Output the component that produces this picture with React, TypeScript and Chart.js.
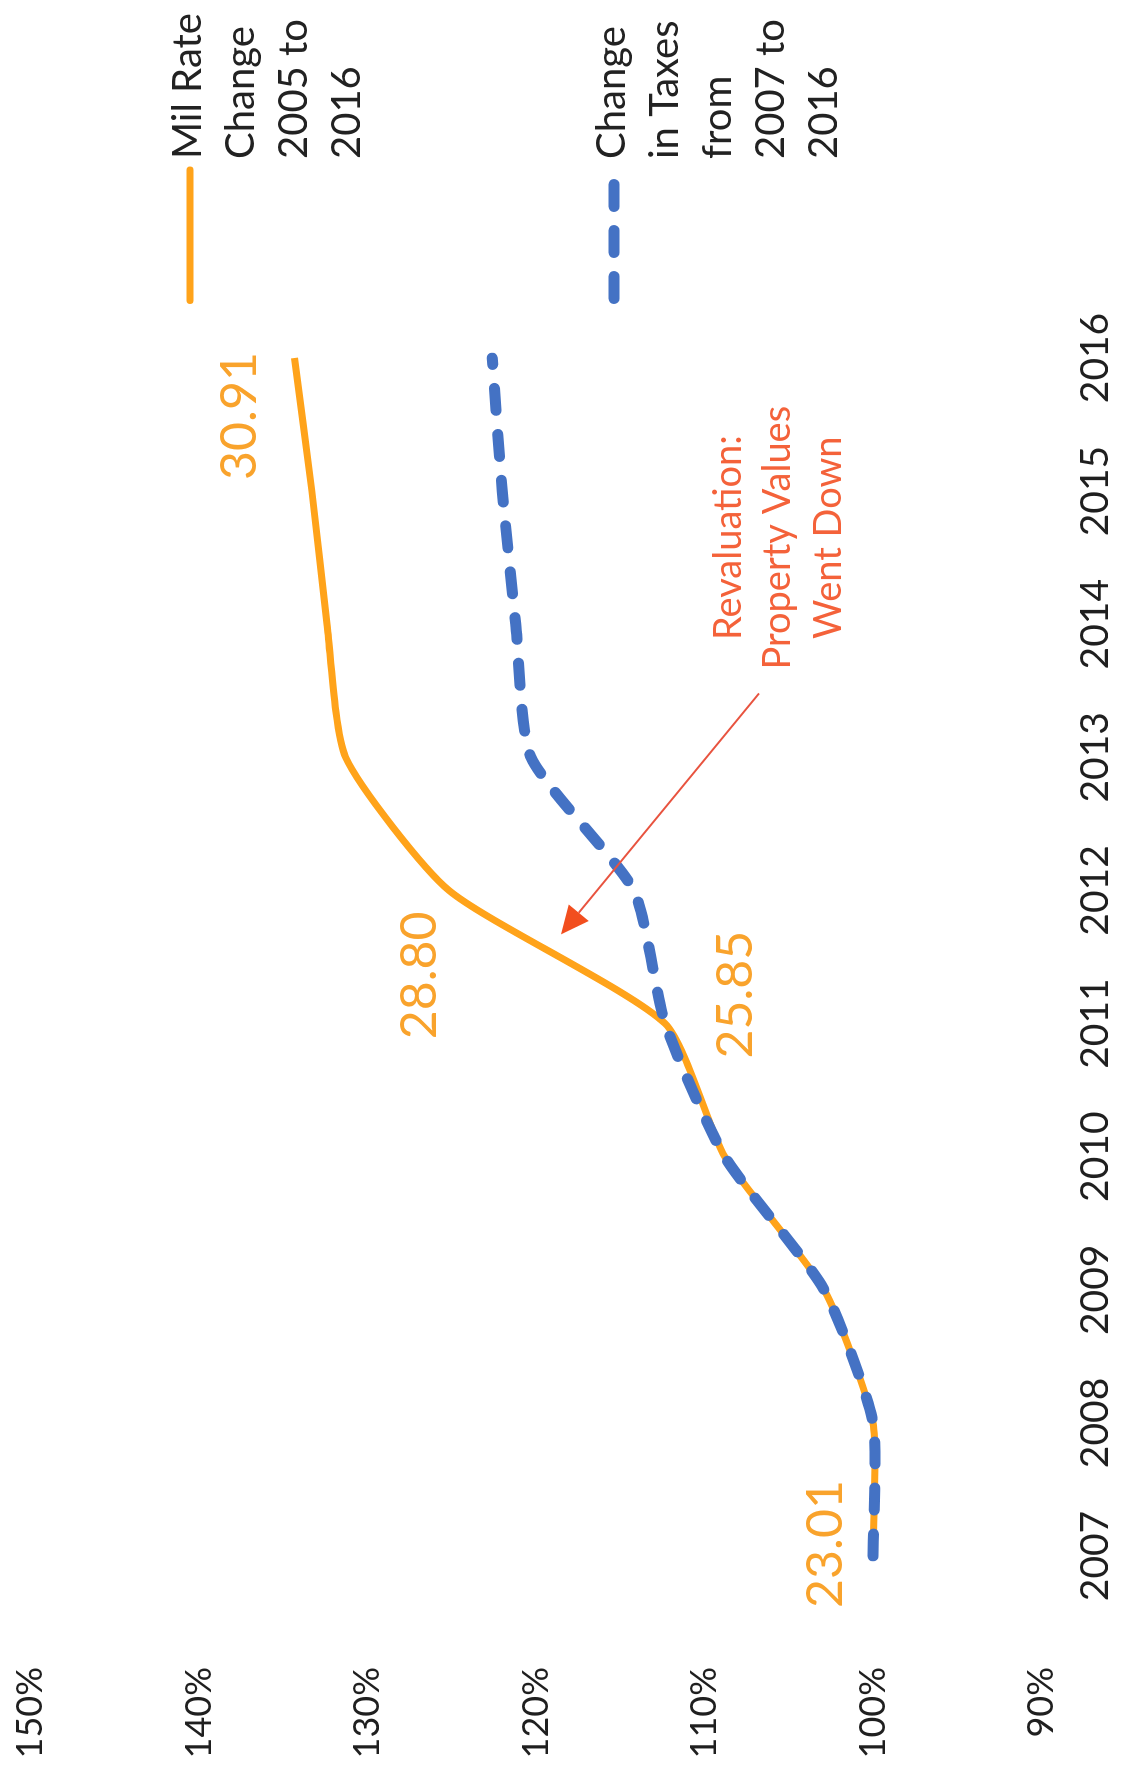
import React, { useEffect, useRef } from 'react';
import { Chart, registerables } from 'chart.js';

Chart.register(...registerables);

// ---------- data ----------
const years = ['2007', '2008', '2009', '2010', '2011', '2012', '2013', '2014', '2015', '2016'];
const milRateChange = [100, 100, 102.9, 108.8, 112.34, 125.16, 131.3, 132.4, 133.3, 134.33];
const taxChange = [100, 100, 102.9, 108.8, 112.34, 114.2, 120.3, 121.2, 122.0, 122.6];
const milRateValueLabels = ['23.01', '', '', '', '25.85', '28.80', '', '', '', '30.91'];
const milRateLegend = ['Mil Rate', 'Change', '2005 to', '2016'];
const taxLegend = ['Change', 'in Taxes', 'from', '2007 to', '2016'];
const noteLines = ['Revaluation:', 'Property Values', 'Went Down'];

// ---------- style ----------
const ORANGE = '#FFA31A';
const ORANGE_TEXT = '#F9A32C';
const BLUE = '#4472C4';
const NOTE = '#F4623A';
const FONT = 'Lato, "Liberation Sans", sans-serif';
const W = 1776;
const H = 1123;

// label offsets (px) from the point, in chart orientation
const labelOffsets: Record<number, [number, number]> = {
  0: [12, -47],
  4: [29, 71],
  5: [-85, -29],
  9: [-58, -55],
};

// annotation anchor (category index, percent)
const noteCenterIndex = 7.65;
const noteLineValues = [108.55, 105.64, 102.61];
const arrowFrom = [6.48, 106.77];
const arrowTo = [4.67, 118.52];

const overlayPlugin = {
  id: 'overlay',
  afterDatasetsDraw(chart: any) {
    const ctx = chart.ctx as CanvasRenderingContext2D;
    const xs = chart.scales.x;
    const ys = chart.scales.y;
    ctx.save();

    // value labels
    ctx.font = `50px ${FONT}`;
    ctx.fillStyle = ORANGE_TEXT;
    ctx.textAlign = 'center';
    ctx.textBaseline = 'middle';
    milRateValueLabels.forEach((t, i) => {
      if (!t) return;
      const off = labelOffsets[i] || [0, -40];
      const px = xs.getPixelForValue(i) + off[0];
      const py = ys.getPixelForValue(milRateChange[i]) + off[1];
      ctx.fillText(t, px, py);
    });

    // annotation text
    ctx.font = `38px ${FONT}`;
    ctx.fillStyle = NOTE;
    const cx = xs.getPixelForValue(noteCenterIndex);
    noteLines.forEach((t, k) => {
      ctx.fillText(t, cx, ys.getPixelForValue(noteLineValues[k]));
    });

    // arrow
    const x1 = xs.getPixelForValue(arrowFrom[0]);
    const y1 = ys.getPixelForValue(arrowFrom[1]);
    const x2 = xs.getPixelForValue(arrowTo[0]);
    const y2 = ys.getPixelForValue(arrowTo[1]);
    const ang = Math.atan2(y2 - y1, x2 - x1);
    const headLen = 28;
    const headHalf = 13;
    const bx = x2 - headLen * Math.cos(ang);
    const by = y2 - headLen * Math.sin(ang);
    ctx.strokeStyle = '#E8533F';
    ctx.lineWidth = 2;
    ctx.beginPath();
    ctx.moveTo(x1, y1);
    ctx.lineTo(bx, by);
    ctx.stroke();
    ctx.fillStyle = '#F24E1E';
    ctx.beginPath();
    ctx.moveTo(x2, y2);
    ctx.lineTo(bx + headHalf * Math.sin(ang), by - headHalf * Math.cos(ang));
    ctx.lineTo(bx - headHalf * Math.sin(ang), by + headHalf * Math.cos(ang));
    ctx.closePath();
    ctx.fill();

    // legend
    const lx0 = chart.chartArea.right + 54;
    const lx1 = lx0 + 134;
    const tx = lx1 + 11;
    const items = [
      { lines: milRateLegend, color: ORANGE, width: 7, dash: [] as number[], y: 188 },
      { lines: taxLegend, color: BLUE, width: 11, dash: [22, 24], y: 612 },
    ];
    items.forEach((it) => {
      ctx.save();
      ctx.strokeStyle = it.color;
      ctx.lineWidth = it.width;
      ctx.lineCap = 'round';
      ctx.setLineDash(it.dash);
      ctx.beginPath();
      ctx.moveTo(lx0 + it.width / 2, it.y + 2);
      ctx.lineTo(lx1, it.y + 2);
      ctx.stroke();
      ctx.restore();
      ctx.font = `40px ${FONT}`;
      ctx.fillStyle = '#222';
      ctx.textAlign = 'left';
      ctx.textBaseline = 'middle';
      it.lines.forEach((t, k) => ctx.fillText(t, tx, it.y + k * 53));
    });

    ctx.restore();
  },
};

export default function App() {
  const ref = useRef<HTMLCanvasElement | null>(null);

  useEffect(() => {
    if (!ref.current) return;
    const chart = new Chart(ref.current, {
      type: 'line',
      data: {
        labels: years,
        datasets: [
          {
            label: milRateLegend.join(' '),
            data: milRateChange,
            borderColor: ORANGE,
            backgroundColor: ORANGE,
            borderWidth: 7,
            pointRadius: 0,
            tension: 0.2,
            fill: false,
            order: 1,
          },
          {
            label: taxLegend.join(' '),
            data: taxChange,
            borderColor: BLUE,
            backgroundColor: BLUE,
            borderWidth: 11,
            borderDash: [22, 24],
            borderCapStyle: 'round',
            pointRadius: 0,
            tension: 0.2,
            fill: false,
            order: 0,
          },
        ],
      },
      options: {
        responsive: false,
        devicePixelRatio: 1,
        animation: false,
        layout: { padding: { left: 0, top: 30.5, right: 358, bottom: 0 } },
        plugins: { legend: { display: false }, tooltip: { enabled: false } },
        scales: {
          x: {
            grid: { display: false, drawTicks: false },
            border: { display: false },
            ticks: {
              font: { family: FONT, size: 39 },
              color: '#1f1f1f',
              padding: 31,
              maxRotation: 0,
              autoSkip: false,
            },
            afterFit: (s: any) => {
              s.height = 81.5;
              s.paddingLeft = 0;
              s.paddingRight = 0;
            },
          },
          y: {
            min: 90,
            max: 150,
            grid: { display: false, drawTicks: false },
            border: { display: false },
            ticks: {
              stepSize: 10,
              callback: (v: any) => v + '%',
              font: { family: FONT, size: 36 },
              color: '#1f1f1f',
              padding: 111,
            },
            afterFit: (s: any) => {
              s.width = 220;
              s.paddingTop = 0;
              s.paddingBottom = 0;
            },
          },
        },
      },
      plugins: [overlayPlugin],
    } as any);
    return () => chart.destroy();
  }, []);

  return (
    <div style={{ position: 'absolute', left: 0, top: 0, width: H, height: W, overflow: 'hidden', background: '#fff' }}>
      <div
        style={{
          position: 'absolute',
          left: 0,
          top: 0,
          width: W,
          height: H,
          transformOrigin: '0 0',
          transform: `translateY(${W}px) rotate(-90deg)`,
        }}
      >
        <canvas ref={ref} width={W} height={H} style={{ display: 'block', width: W, height: H }} />
      </div>
    </div>
  );
}
